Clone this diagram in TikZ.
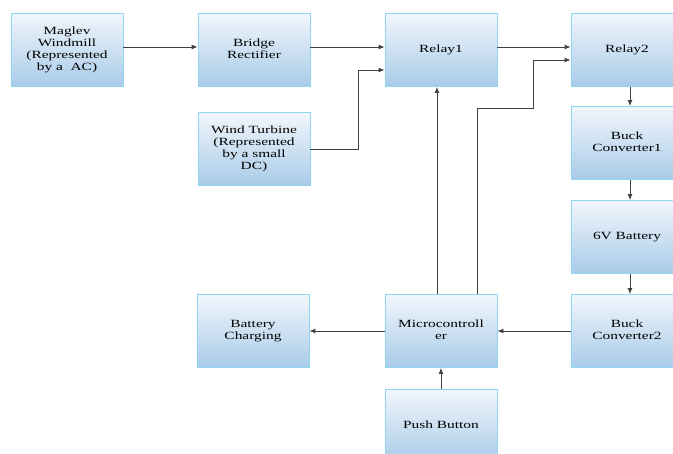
\documentclass[tikz,border=0pt]{standalone}
\usepackage{fontspec}
\setmainfont{Liberation Serif}
\usetikzlibrary{arrows.meta}

\definecolor{boxline}{HTML}{8ED6F2}
\definecolor{boxtop}{HTML}{F2F6FC}
\definecolor{boxbottom}{HTML}{A9CBE8}
\definecolor{wire}{HTML}{404040}

% text in the boxes is set wide
\newcommand{\widetext}[1]{\scalebox{1.4}[1]{\begin{tabular}{@{}c@{}}#1\end{tabular}}}

\begin{document}
\begin{tikzpicture}[x=1pt,y=-1pt]
        \tikzstyle{block}=[draw=boxline,line width=0.8pt,top color=boxtop,bottom color=boxbottom,
            minimum width=112pt,minimum height=73pt,align=center,inner sep=2pt,
            font=\fontsize{11}{12.3}\selectfont]
        \tikzstyle{arr}=[draw=wire,line width=0.9pt,-{Latex[length=6pt,width=5pt]}]
        \useasboundingbox (0,0) rectangle (673,454);
        \node[block] (maglev) at (67,50) {\widetext{Maglev\\Windmill\\(Represented\\by a~ AC)}};
        \node[block] (bridge) at (254,50) {\widetext{Bridge\\Rectifier}};
        \node[block] (wind) at (254,149) {\widetext{Wind Turbine\\(Represented\\by a small\\DC)}};
        \node[block] (relay1) at (441,50) {\widetext{Relay1}};
        \node[block] (relay2) at (627,50) {\widetext{Relay2}};
        \node[block] (buck1) at (627,143) {\widetext{Buck\\Converter1}};
        \node[block] (battery) at (627,237) {\widetext{6V Battery}};
        \node[block] (buck2) at (627,331) {\widetext{Buck\\Converter2}};
        \node[block] (micro) at (441,331) {\widetext{Microcontroll\\er}};
        \node[block] (charging) at (253,331) {\widetext{Battery\\Charging}};
        \node[block] (push) at (441,426) {\widetext{Push Button}};
        \coordinate (bend) at (533,108);
        % top row
        \draw[arr] ([yshift=3pt]maglev.east) -- ([yshift=3pt]bridge.west);
        \draw[arr] ([yshift=3pt]bridge.east) -- ([yshift=3pt]relay1.west);
        \draw[arr] (wind.east) -- ++(48,0) |- ([yshift=-20pt]relay1.west);
        \draw[arr] ([yshift=3pt]relay1.east) -- ([yshift=3pt]relay2.west);
        % right column
        \draw[arr] ([xshift=3pt]relay2.south) -- ([xshift=3pt]buck1.north);
        \draw[arr] ([xshift=3pt]buck1.south) -- ([xshift=3pt]battery.north);
        \draw[arr] ([xshift=3pt]battery.south) -- ([xshift=3pt]buck2.north);
        % bottom row
        \draw[arr] (buck2.west) -- (micro.east);
        \draw[arr] (micro.west) -- (charging.east);
        \draw[arr] (push.north) -- (micro.south);
        \draw[arr] ([xshift=-4pt]micro.north) -- ([xshift=-4pt]relay1.south);
        \draw[arr] ([xshift=36pt]micro.north) |- (bend) |- ([yshift=-10pt]relay2.west);
\end{tikzpicture}
\end{document}
